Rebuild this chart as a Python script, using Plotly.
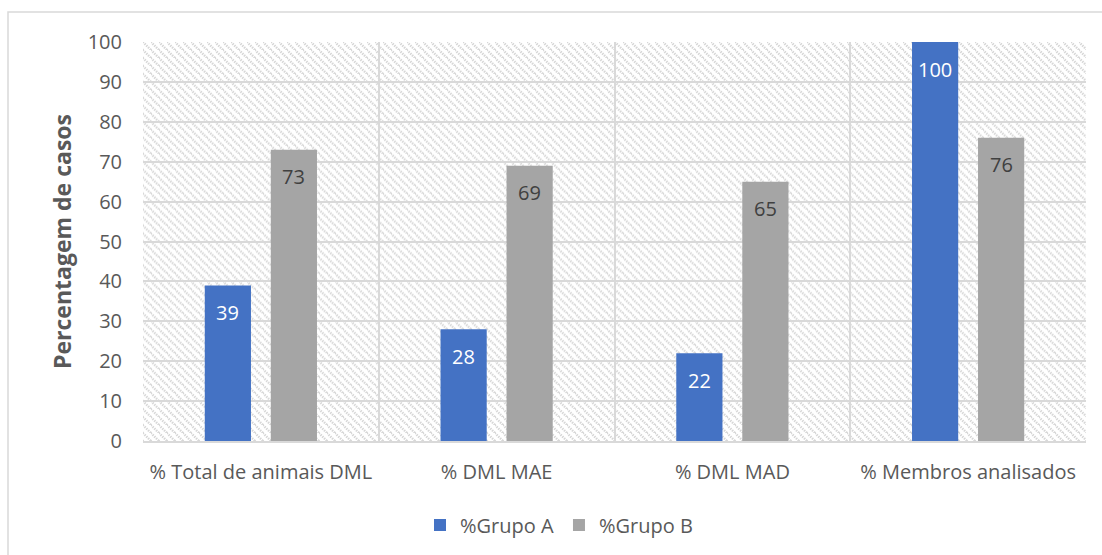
import plotly.graph_objects as go

categories = ["% Total de animais DML", "% DML MAE", "% DML MAD", "% Membros analisados"]
grupo_a = [39, 28, 22, 100]
grupo_b = [73, 69, 65, 76]
series_names = ["%Grupo A", "%Grupo B"]
y_ticks = [0, 10, 20, 30, 40, 50, 60, 70, 80, 90, 100]

FONT = "Open Sans"
TXT = "#595959"
GRID = "#d9d9d9"
FS = 20

# Diagonal hatch used as the plot-area fill
hatch_svg = (
    "<svg xmlns='http://www.w3.org/2000/svg' width='943' height='400' viewBox='0 0 943 400'>"
    "<defs><pattern id='h' width='8' height='8' patternUnits='userSpaceOnUse'>"
    "<path d='M-2,-2 L10,10 M-6,2 L2,10 M6,-6 L14,2' stroke='%23d6d6d6' stroke-width='2.4' stroke-dasharray='1.5,1'/>"
    "</pattern></defs><rect width='943' height='400' fill='white'/>"
    "<rect width='943' height='400' fill='url(%23h)'/></svg>"
)
hatch_uri = "data:image/svg+xml;utf8," + hatch_svg.replace("<", "%3C").replace(">", "%3E").replace("'", "%27").replace(" ", "%20")

fig = go.Figure()
fig.add_trace(go.Bar(
    x=categories, y=grupo_a, name=series_names[0], offsetgroup="A",
    marker=dict(color="#4472C4", line=dict(width=0)),
))
fig.add_trace(go.Bar(
    x=categories, y=grupo_b, name=series_names[1], offsetgroup="B",
    marker=dict(color="#A5A5A5", line=dict(width=0)),
))

# Value labels placed just inside the top of each bar
annotations = []
for i, cat in enumerate(categories):
    for vals, col, shift in ((grupo_a, "white", -33), (grupo_b, "#404040", 33)):
        annotations.append(dict(
            x=cat, y=vals[i], xref="x", yref="y", text=str(vals[i]), showarrow=False,
            xshift=shift, yshift=-27, yanchor="middle",
            font=dict(family=FONT, size=FS, color=col),
        ))

fig.update_layout(
    width=1102, height=555,
    margin=dict(l=143, r=16, t=42, b=113),
    paper_bgcolor="white",
    plot_bgcolor="rgba(0,0,0,0)",
    barmode="group", bargap=0.44, bargroupgap=0.3,
    font=dict(family=FONT, size=FS, color=TXT),
    showlegend=True,
    legend=dict(orientation="h", x=(420 - 143) / 943, xanchor="left", y=-0.2075, yanchor="middle",
                font=dict(family=FONT, size=FS, color=TXT), itemwidth=30,
                traceorder="normal"),
    annotations=annotations,
    images=[dict(source=hatch_uri, xref="paper", yref="paper", x=0, y=1,
                 sizex=1, sizey=1, sizing="stretch", layer="below", xanchor="left", yanchor="top")],
    shapes=[dict(type="rect", xref="paper", yref="paper",
                 x0=(8 - 143) / 943, x1=1.05, y0=-0.5, y1=(442 - 12) / 400,
                 line=dict(color=GRID, width=1.5), fillcolor="rgba(0,0,0,0)", layer="below")],
)

fig.update_xaxes(
    type="category", tickson="boundaries", showgrid=True, gridcolor=GRID, gridwidth=1.5,
    ticks="", showline=True, linecolor=GRID, linewidth=1.5, mirror=False,
    tickfont=dict(family=FONT, size=FS, color=TXT), ticklabelstandoff=12,
)
fig.update_yaxes(
    range=[0, 100], tickvals=y_ticks, showgrid=True, gridcolor=GRID, gridwidth=1.5,
    zeroline=False, showline=False, ticks="",
    tickfont=dict(family=FONT, size=FS, color=TXT), ticklabelstandoff=20,
    title=dict(text="<b>Percentagem de casos</b>", font=dict(family=FONT, size=23, color=TXT), standoff=9),
)

fig.write_html("out.html")
